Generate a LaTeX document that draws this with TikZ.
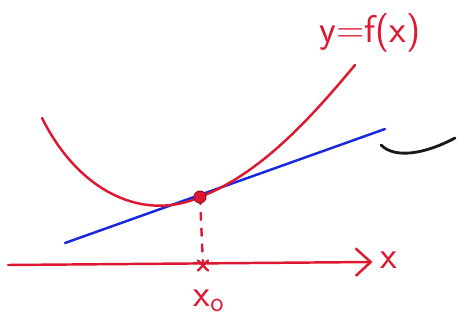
\documentclass[tikz,border=0pt]{standalone}
\usepackage{fontspec}
\usetikzlibrary{arrows.meta,calc}
\definecolor{penred}{RGB}{222,24,48}
\definecolor{penblue}{RGB}{24,40,220}
\definecolor{penblack}{RGB}{25,25,25}
\tikzset{
    pen/.style={line width=1.4pt, line cap=round, line join=round},
    handlabel/.style={text=penred, font=\fontsize{22}{24}\selectfont\sffamily}
}
\begin{document}
\begin{tikzpicture}
    \useasboundingbox (0,0) rectangle (9.16,6.58);
    % points
    \coordinate (axL) at (0.16,1.28);
    \coordinate (axR) at (7.45,1.34);
    \coordinate (x0) at (4.06,1.27);
    \coordinate (start) at (0.84,4.22);
    \coordinate (p0) at (4.0,2.64);
    \coordinate (end) at (7.1,5.28);
    \coordinate (t1) at (1.3,1.72);
    \coordinate (t2) at (7.7,4.0);

    % axis
    \draw[pen, penred, -{Straight Barb[length=3mm,width=5.5mm,line width=1.4pt]}] (axL) -- (axR);
    \node[handlabel] (xlab) at (7.78,1.38) {x};
    \draw[pen, penred] ($(x0)+(-0.1,0.1)$) -- ($(x0)+(0.1,-0.1)$);
    \draw[pen, penred] ($(x0)+(-0.1,-0.1)$) -- ($(x0)+(0.1,0.1)$);
    \node[handlabel] (x0lab) at (4.18,0.56) {x$_\mathsf{o}$};

    % tangent
    \draw[pen, penblue] (t1) -- (t2);

    % curve
    \draw[pen, penred] (start) .. controls (1.6,2.7) and (2.9,2.15) .. (p0)
        .. controls (5.2,3.1) and (6.2,4.2) .. (end);
    \node[handlabel] (flab) at (7.4,5.92) {y=f(x)};

    % dashed drop
    \draw[pen, penred, dash pattern=on 4pt off 5pt] (p0) -- (x0);
    \fill[penred, draw=penred!70!black, line width=0.6pt] (p0) circle (0.12);

    % little black stroke
    \draw[pen, penblack, line width=1.6pt] (7.62,3.68) .. controls (7.9,3.4) and (8.5,3.5) .. (9.1,3.82);
\end{tikzpicture}
\end{document}
